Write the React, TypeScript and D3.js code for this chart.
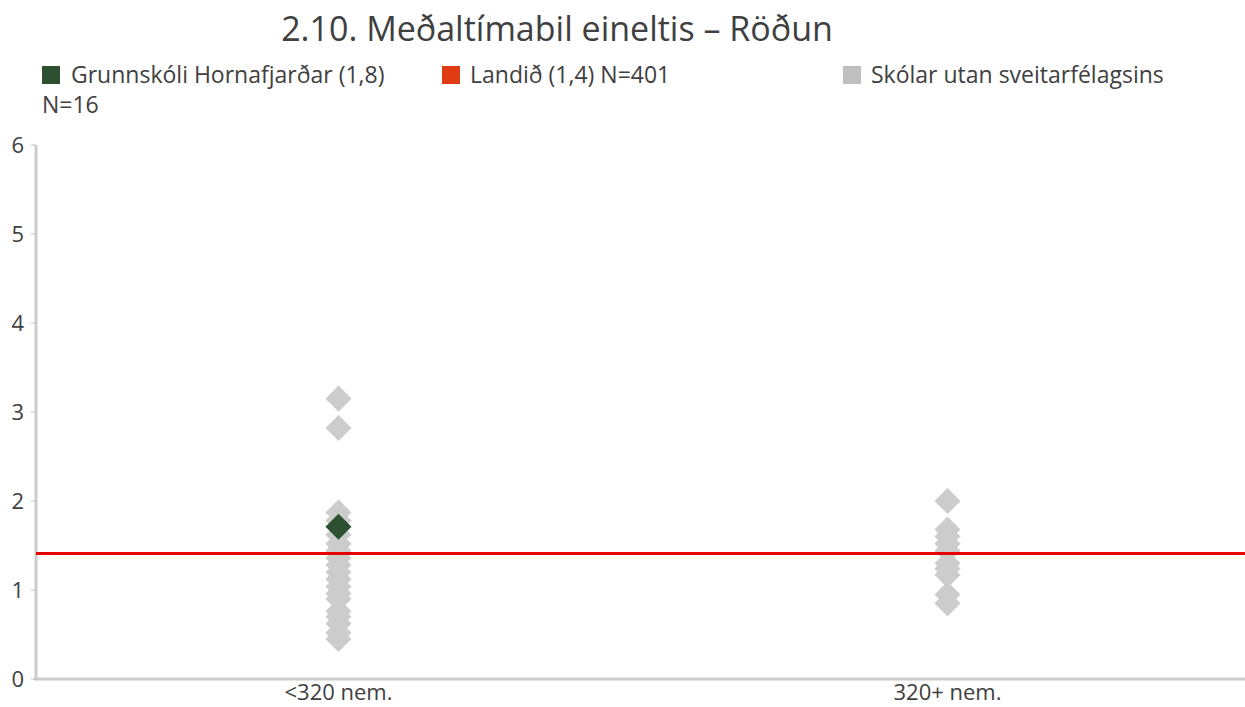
import React from "react";
import * as d3 from "d3";

const categories = ["<320 nem.", "320+ nem."];
const otherSmall = [3.15, 2.82, 1.87, 1.78, 1.62, 1.52, 1.44, 1.36, 1.28, 1.2, 1.12, 1.04, 0.96, 0.9, 0.76, 0.7, 0.62, 0.52, 0.45];
const otherLarge = [2.0, 1.68, 1.6, 1.52, 1.44, 1.3, 1.24, 1.17, 0.95, 0.85];
const schoolValue = 1.71;
const schoolCategory = "<320 nem.";
const nationalValue = 1.41;
const yTicks = [0, 1, 2, 3, 4, 5, 6];
const legendLabels = ["Grunnskóli Hornafjarðar (1,8)", "Landið (1,4) N=401", "Skólar utan sveitarfélagsins"];
const title = "2.10. Meðaltímabil eineltis – Röðun";

const W = 1245, H = 707;
const FONT = "'Open Sans', sans-serif";

export default function App() {
  const x = d3.scaleBand().domain(categories).range([34, 1252]);
  const y = d3.scaleLinear().domain([0, 6]).range([679, 145]);
  const diamond = d3.symbol().type(d3.symbolSquare).size(340)();
  const cx = (c: string) => (x(c) ?? 0) + x.bandwidth() / 2;
  const points = [
    ...otherSmall.map((v) => ({ c: categories[0], v })),
    ...otherLarge.map((v) => ({ c: categories[1], v })),
  ];
  return (
    <svg width={W} height={H} style={{ position: "absolute", left: 0, top: 0, background: "#fff" }} fontFamily={FONT}>
      <text x={557} y={41} textAnchor="middle" fontSize={34} fill="#404040">{title}</text>
      <g fontSize={23} fill="#404040">
        <rect x={42} y={66} width={18} height={18} fill="#2d5130" />
        <text x={71} y={83}>{legendLabels[0]}</text>
        <text x={42} y={113}>N=16</text>
        <rect x={442} y={66} width={18} height={18} fill="#e03c14" />
        <text x={470} y={83}>{legendLabels[1]}</text>
        <rect x={843} y={66} width={18} height={18} fill="#bfbfbf" />
        <text x={871} y={83}>{legendLabels[2]}</text>
      </g>
      <line x1={36} x2={36} y1={y(6)} y2={y(0)} stroke="#cccccc" strokeWidth={3} />
      <line x1={34} x2={1252} y1={y(0)} y2={y(0)} stroke="#cccccc" strokeWidth={3} />
      {yTicks.map((t) => (
        <g key={t}>
          <line x1={31} x2={36} y1={y(t)} y2={y(t)} stroke="#bfbfbf" strokeWidth={1} />
          <text x={24} y={y(t) + 8} textAnchor="end" fontSize={22} fill="#404040">{t}</text>
        </g>
      ))}
      {categories.map((c) => (
        <text key={c} x={cx(c)} y={700} textAnchor="middle" fontSize={22} fill="#404040">{c}</text>
      ))}
      {points.map((p, i) => (
        <path key={i} d={diamond!} transform={`translate(${cx(p.c)},${y(p.v)}) rotate(45)`} fill="#cccccc" />
      ))}
      <line x1={36} x2={1252} y1={y(nationalValue)} y2={y(nationalValue)} stroke="#e60000" strokeWidth={3} />
      <path d={diamond!} transform={`translate(${cx(schoolCategory)},${y(schoolValue)}) rotate(45)`} fill="#2d5130" />
    </svg>
  );
}
